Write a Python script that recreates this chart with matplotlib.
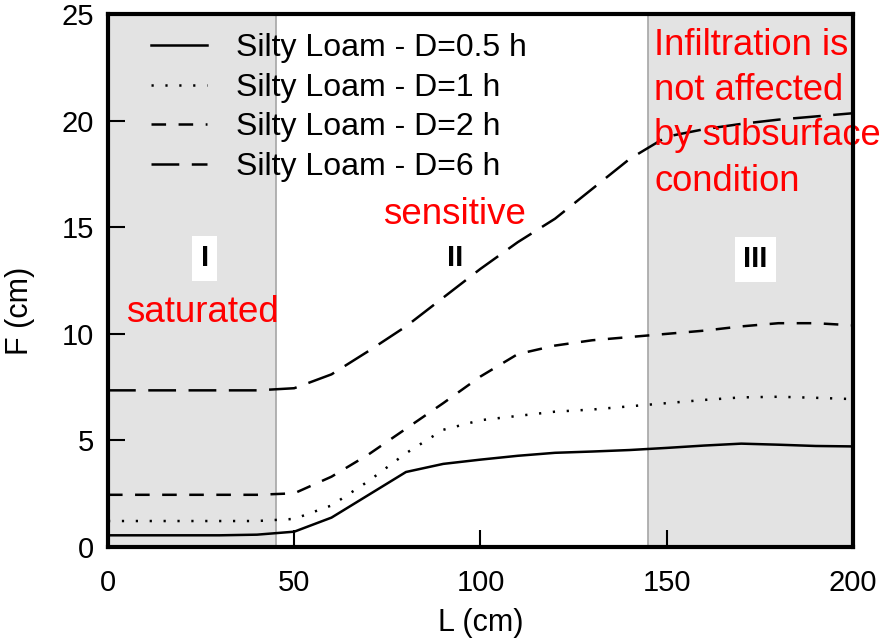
import matplotlib
matplotlib.use("Agg")
import matplotlib.pyplot as plt

plt.rcParams["font.family"] = ["Liberation Sans", "DejaVu Sans"]
plt.rcParams["lines.scale_dashes"] = False

# distance L (cm) and infiltration F (cm) per storm duration
L = [0, 10, 20, 30, 40, 50, 60, 70, 80, 90, 100, 110, 120, 130, 140, 150, 160, 170, 180, 190, 200]
F_05h = [0.55, 0.55, 0.55, 0.55, 0.58, 0.72, 1.38, 2.45, 3.52, 3.9, 4.1, 4.28, 4.42, 4.48, 4.55, 4.65, 4.76, 4.85, 4.8, 4.74, 4.72]
F_1h = [1.22, 1.22, 1.22, 1.22, 1.22, 1.32, 1.95, 3.1, 4.4, 5.5, 5.95, 6.15, 6.35, 6.45, 6.6, 6.75, 6.9, 7.02, 7.05, 7.0, 6.94]
F_2h = [2.45, 2.45, 2.45, 2.45, 2.45, 2.52, 3.3, 4.35, 5.55, 6.75, 8.0, 9.05, 9.45, 9.7, 9.85, 10.0, 10.15, 10.35, 10.5, 10.5, 10.4]
F_6h = [7.35, 7.35, 7.35, 7.35, 7.35, 7.45, 8.1, 9.2, 10.35, 11.7, 13.05, 14.3, 15.4, 16.8, 18.2, 19.25, 19.6, 19.85, 20.05, 20.2, 20.35]

series = [
    ("Silty Loam - D=0.5 h", F_05h, "-"),
    ("Silty Loam - D=1 h", F_1h, (0, (1.6, 8.4))),
    ("Silty Loam - D=2 h", F_2h, (0, (10.5, 9))),
    ("Silty Loam - D=6 h", F_6h, (0, (20, 9))),
]

# zone boundaries (cm)
zone_I = (0, 45)
zone_III = (145, 200)

fig = plt.figure(figsize=(8.83, 6.41), dpi=100)
ax = fig.add_axes([0.1223, 0.1466, 0.8437, 0.8314])

ax.axvspan(*zone_I, color="#e3e3e3", lw=0, zorder=0)
ax.axvspan(*zone_III, color="#e3e3e3", lw=0, zorder=0)
ax.axvline(zone_I[1], color="#a6a6a6", lw=1.2, zorder=1)
ax.axvline(zone_III[0], color="#a6a6a6", lw=1.2, zorder=1)

for label, vals, ls in series:
    ax.plot(L, vals, color="black", lw=1.8, linestyle=ls, label=label, zorder=3)

ax.set_xlim(0, 200)
ax.set_ylim(0, 25)
ax.set_xticks([0, 50, 100, 150, 200])
ax.set_yticks([0, 5, 10, 15, 20, 25])
ax.tick_params(direction="in", length=12, width=1.5, labelsize=21, pad=10)
ax.tick_params(axis="x", pad=16)
for sp in ax.spines.values():
    sp.set_linewidth(3)
    sp.set_zorder(5)

ax.set_xlabel("L (cm)", fontsize=22, labelpad=8)
ax.set_ylabel("F (cm)", fontsize=22)
ax.yaxis.set_label_coords(-0.098, 0.443)

ax.legend(loc="upper left", bbox_to_anchor=(0.032, 1.0), frameon=False, fontsize=23,
          handlelength=1.75, handletextpad=0.9, labelspacing=0.3, borderaxespad=0.2)

# zone labels
ax.text(26, 13.55, "I", fontsize=21, fontweight="bold", ha="center", va="center",
        bbox=dict(facecolor="white", edgecolor="none", pad=6), zorder=4)
ax.text(93.2, 13.55, "II", fontsize=21, fontweight="bold", ha="center", va="center", zorder=4)
ax.text(173.8, 13.5, "III", fontsize=21, fontweight="bold", ha="center", va="center",
        bbox=dict(facecolor="white", edgecolor="none", pad=6), zorder=4)

ax.text(25.4, 11.0, "saturated", color="red", fontsize=26.5, ha="center", va="center", zorder=4)
ax.text(93, 15.6, "sensitive", color="red", fontsize=26.5, ha="center", va="center", zorder=4)
ax.text(146.6, 24.35, "Infiltration is\nnot affected\nby subsurface\ncondition", color="red",
        fontsize=26.2, ha="left", va="top", linespacing=1.38, clip_on=False, zorder=4)

fig.savefig("out.png", dpi=100)
